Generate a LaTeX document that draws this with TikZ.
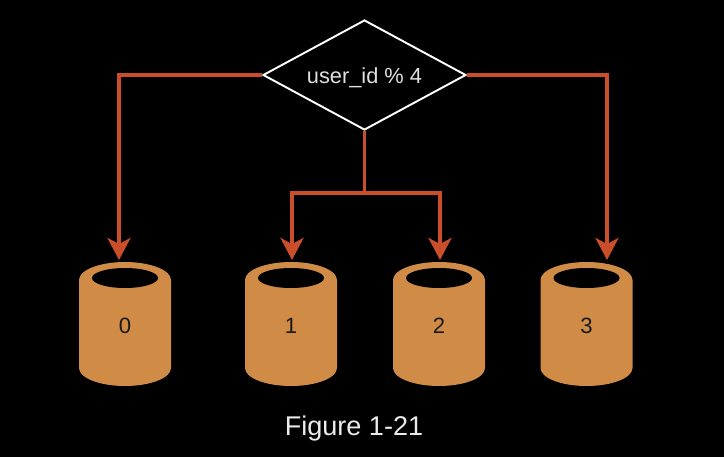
\documentclass[tikz,border=0pt]{standalone}
\usepackage{fontspec}
\setmainfont{Liberation Sans}
\usetikzlibrary{shapes.geometric,arrows.meta}
\definecolor{redline}{HTML}{C94E29}
\definecolor{diskfill}{HTML}{D08C46}
\tikzset{
  hashbox/.style={diamond,draw=white,line width=1.1pt,aspect=1.845,minimum width=4.06cm,minimum height=2.2cm,inner sep=0pt,text=white!88!black,text height=0.32cm,text depth=0pt,font=\fontsize{12.4}{14}\selectfont},
  hole/.style={ellipse,fill=black,minimum width=1.32cm,minimum height=0.4cm,inner sep=0pt},
  number/.style={text=black!90,font=\fontsize{12.6}{14}\selectfont},
  link/.style={draw=redline,line width=2.2pt,-{Stealth[length=0.44cm,width=0.46cm,inset=0.12cm]}},
  pics/disk/.style={code={
    \fill[diskfill] (-0.92,0.88) arc (180:0:0.92 and 0.36) -- (0.92,-0.88) arc (360:180:0.92 and 0.36) -- cycle;
    \node[hole] (hole) at (0,0.92) {};
    \node[number] (num) at (0,-0.03) {#1};
  }}
}
\begin{document}
\begin{tikzpicture}
\fill[black] (0,0) rectangle (14.48,9.14);
\useasboundingbox (0,0) rectangle (14.48,9.14);

\node[hashbox] (hash) at (7.29,7.64) {user\_id \% 4};

\pic (disk0) at (2.50,2.66) {disk=0};
\pic (disk1) at (5.82,2.66) {disk=1};
\pic (disk2) at (8.78,2.66) {disk=2};
\pic (disk3) at (11.73,2.66) {disk=3};

\node[text=white!92!black,font=\fontsize{15.4}{18}\selectfont] (caption) at (7.08,0.56) {Figure 1-21};

\coordinate (in0) at (2.38,3.94);
\coordinate (in1) at (5.84,3.94);
\coordinate (in2) at (8.80,3.94);
\coordinate (in3) at (12.14,3.94);
\coordinate (fork) at (7.29,5.28);

\draw[link] (hash.west) -| (in0);
\draw[link] (hash.east) -| (in3);
\draw[draw=redline,line width=2.2pt] (hash.south) -- (fork);
\draw[link] (fork) -| (in1);
\draw[link] (fork) -| (in2);
\end{tikzpicture}
\end{document}
